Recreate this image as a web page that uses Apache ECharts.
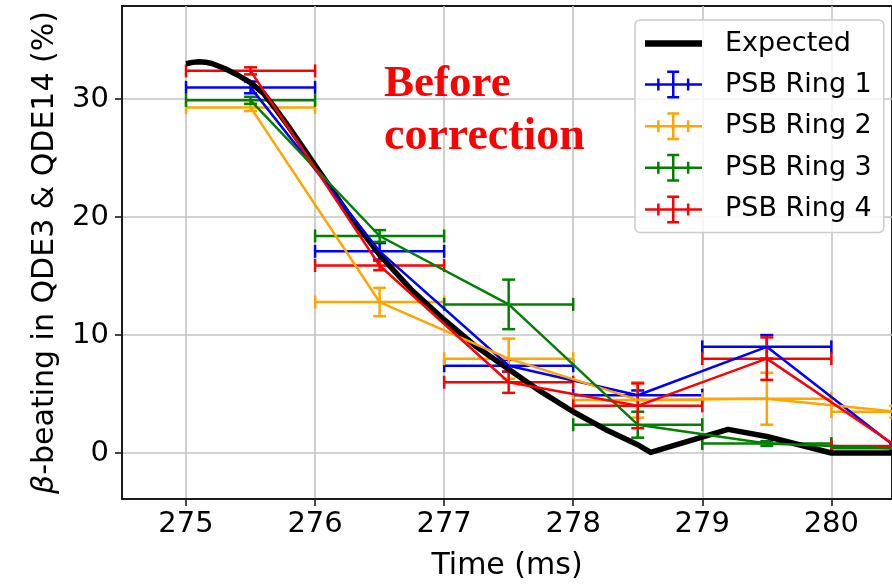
<!DOCTYPE html>
<html>
<head>
<meta charset="utf-8">
<script src="https://cdn.jsdelivr.net/npm/echarts@6/dist/echarts.min.js"></script>
<style>
  html, body { margin: 0; padding: 0; background: #fff; }
  #chart { width: 892px; height: 586px; }
</style>
</head>
<body>
<div id="chart"></div>
<script>
// Axis ticks
const timeTicks = [275, 276, 277, 278, 279, 280];
const betaTicks = [0, 10, 20, 30];

// Expected beta-beating along the ramp (ms, %)
const expectedTime = [275.0, 275.05, 275.1, 275.15, 275.2, 275.3, 275.4, 275.5, 275.6, 275.7, 275.8, 275.9, 276.0, 276.25, 276.5, 276.75, 277.0, 277.25, 277.5, 277.75, 278.0, 278.25, 278.5, 278.6, 279.2, 279.5, 280.0, 280.6];
const expectedBeta = [33.0, 33.12, 33.17, 33.14, 33.02, 32.6, 32.05, 31.4, 30.5, 29.1, 27.6, 26.0, 24.4, 20.4, 16.8, 13.8, 11.3, 9.0, 7.1, 5.2, 3.5, 2.0, 0.7, 0.05, 2.0, 1.4, 0.0, 0.0];

// Measurement windows (centre time, half-width in ms)
const ringTime = [275.5, 276.5, 277.5, 278.5, 279.5, 280.5];
const timeHalfWidth = 0.5;

// Measured beta-beating per ring (%) and its uncertainty
const ring1 = [31.0, 17.1, 7.4, 4.9, 9.0, 0.5];
const ring1Err = [0.5, 0.7, 0.5, 0.4, 1.0, 0.3];
const ring2 = [29.3, 12.8, 8.0, 4.5, 4.6, 3.5];
const ring2Err = [0.3, 1.2, 1.7, 1.5, 2.2, 0.5];
const ring3 = [29.9, 18.4, 12.6, 2.4, 0.8, 0.4];
const ring3Err = [0.3, 0.5, 2.1, 1.1, 0.2, 0.2];
const ring4 = [32.4, 15.9, 6.0, 4.0, 8.0, 0.6];
const ring4Err = [0.3, 0.4, 0.9, 1.9, 1.8, 0.3];

const ringNames = ['PSB Ring 1', 'PSB Ring 2', 'PSB Ring 3', 'PSB Ring 4'];
const ringColors = ['#0000ff', '#ffa500', '#008000', '#ff0000'];
const ringValues = [ring1, ring2, ring3, ring4];
const ringErrors = [ring1Err, ring2Err, ring3Err, ring4Err];

const FONT = 'DejaVu Sans';
const CAP = 6.5;
const LW = 2.5;

// Error bar glyph: horizontal time window + vertical uncertainty, with caps
function renderErrorBar(params, api) {
  const x = api.value(0), y = api.value(1), ex = api.value(2), ey = api.value(3);
  const l = api.coord([x - ex, y]);
  const r = api.coord([x + ex, y]);
  const t = api.coord([x, y + ey]);
  const b = api.coord([x, y - ey]);
  const style = { stroke: api.visual('color'), lineWidth: LW, fill: null };
  const seg = (x1, y1, x2, y2) => ({ type: 'line', shape: { x1, y1, x2, y2 }, style });
  return {
    type: 'group',
    children: [
      seg(l[0], l[1], r[0], r[1]),
      seg(l[0], l[1] - CAP, l[0], l[1] + CAP),
      seg(r[0], r[1] - CAP, r[0], r[1] + CAP),
      seg(t[0], t[1], b[0], b[1]),
      seg(t[0] - CAP, t[1], t[0] + CAP, t[1]),
      seg(b[0] - CAP, b[1], b[0] + CAP, b[1])
    ]
  };
}

// Legend glyph for an error-bar entry (57 x 28 box)
const errIcon = 'path://M0,12.75H57V15.25H0Z' +
  'M27,0H29.5V28H27Z' +
  'M22.2,0H34.2V2.5H22.2Z' +
  'M22.2,25.5H34.2V28H22.2Z' +
  'M12.1,8H14.6V20H12.1Z' +
  'M41.9,8H44.4V20H41.9Z';
const lineIcon = 'path://M0,0H57V6.5H0Z';

const series = [{
  name: 'Expected',
  type: 'line',
  data: expectedTime.map((t, i) => [t, expectedBeta[i]]),
  symbol: 'none',
  lineStyle: { color: '#000', width: 5.5, join: 'round' },
  itemStyle: { color: '#000' }
}];

ringNames.forEach((name, k) => {
  series.push({
    name,
    type: 'custom',
    renderItem: renderErrorBar,
    itemStyle: { color: ringColors[k] },
    encode: { x: 0, y: 1 },
    data: ringTime.map((t, i) => [t, ringValues[k][i], timeHalfWidth, ringErrors[k][i]])
  });
  series.push({
    name,
    type: 'line',
    symbol: 'none',
    data: ringTime.map((t, i) => [t, ringValues[k][i]]),
    lineStyle: { color: ringColors[k], width: LW },
    itemStyle: { color: ringColors[k] }
  });
});

const chart = echarts.init(document.getElementById('chart'), null, { renderer: 'canvas' });
chart.setOption({
  animation: false,
  backgroundColor: '#fff',
  textStyle: { fontFamily: FONT },
  grid: {
    left: 122, top: 6, width: 775, height: 497,
    show: true, borderColor: '#1a1a1a', borderWidth: 2, backgroundColor: 'transparent'
  },
  xAxis: {
    type: 'value',
    min: 274.504, max: 280.47,
    name: 'Time (ms)',
    nameLocation: 'middle',
    nameGap: 52,
    nameTextStyle: { fontSize: 30, color: '#000', fontFamily: FONT },
    axisLine: { show: true, onZero: false, lineStyle: { color: '#1a1a1a', width: 2 } },
    axisTick: { show: true, customValues: timeTicks, length: 7, lineStyle: { color: '#1a1a1a', width: 1.6 } },
    axisLabel: { customValues: timeTicks, fontSize: 29, color: '#000', margin: 11, fontFamily: FONT },
    splitLine: { show: true, lineStyle: { color: '#c3c3c3', width: 1.6 } }
  },
  yAxis: {
    type: 'value',
    min: -3.9, max: 37.9,
    name: '{it|β}-beating in QDE3 & QDE14 (%)',
    nameLocation: 'middle',
    nameRotate: 90,
    nameGap: 62,
    nameTextStyle: {
      fontSize: 30, color: '#000', fontFamily: FONT,
      rich: { it: { fontSize: 30, fontStyle: 'italic', color: '#000', fontFamily: FONT } }
    },
    axisLine: { show: true, onZero: false, lineStyle: { color: '#1a1a1a', width: 2 } },
    axisTick: { show: true, customValues: betaTicks, length: 7, lineStyle: { color: '#1a1a1a', width: 1.6 } },
    axisLabel: { customValues: betaTicks, fontSize: 29, color: '#000', margin: 13, fontFamily: FONT },
    splitLine: { show: true, lineStyle: { color: '#c3c3c3', width: 1.6 } }
  },
  legend: {
    orient: 'vertical',
    left: 635, top: 20,
    padding: [10, 12, 9, 10],
    itemWidth: 57, itemHeight: 28,
    itemGap: 13.6,
    backgroundColor: 'rgba(255,255,255,0.8)',
    borderColor: '#cccccc', borderWidth: 1.5, borderRadius: 5,
    selectedMode: false,
    textStyle: { fontSize: 27, color: '#000', fontFamily: FONT, padding: [0, 0, 0, 18] },
    data: [
      { name: 'Expected', icon: lineIcon, itemStyle: { color: '#000', borderWidth: 0 } },
      ...ringNames.map((n, k) => ({ name: n, icon: errIcon, itemStyle: { color: ringColors[k], borderWidth: 0 } }))
    ]
  },
  graphic: [
    {
      type: 'text', left: 384, top: 62, z: 100,
      style: { text: 'Before', font: 'bold 45px "Liberation Serif"', fill: '#ff0000' }
    },
    {
      type: 'text', left: 384, top: 114, z: 100,
      style: { text: 'correction', font: 'bold 46px "Liberation Serif"', fill: '#ff0000' }
    }
  ],
  series
});
</script>
</body>
</html>
